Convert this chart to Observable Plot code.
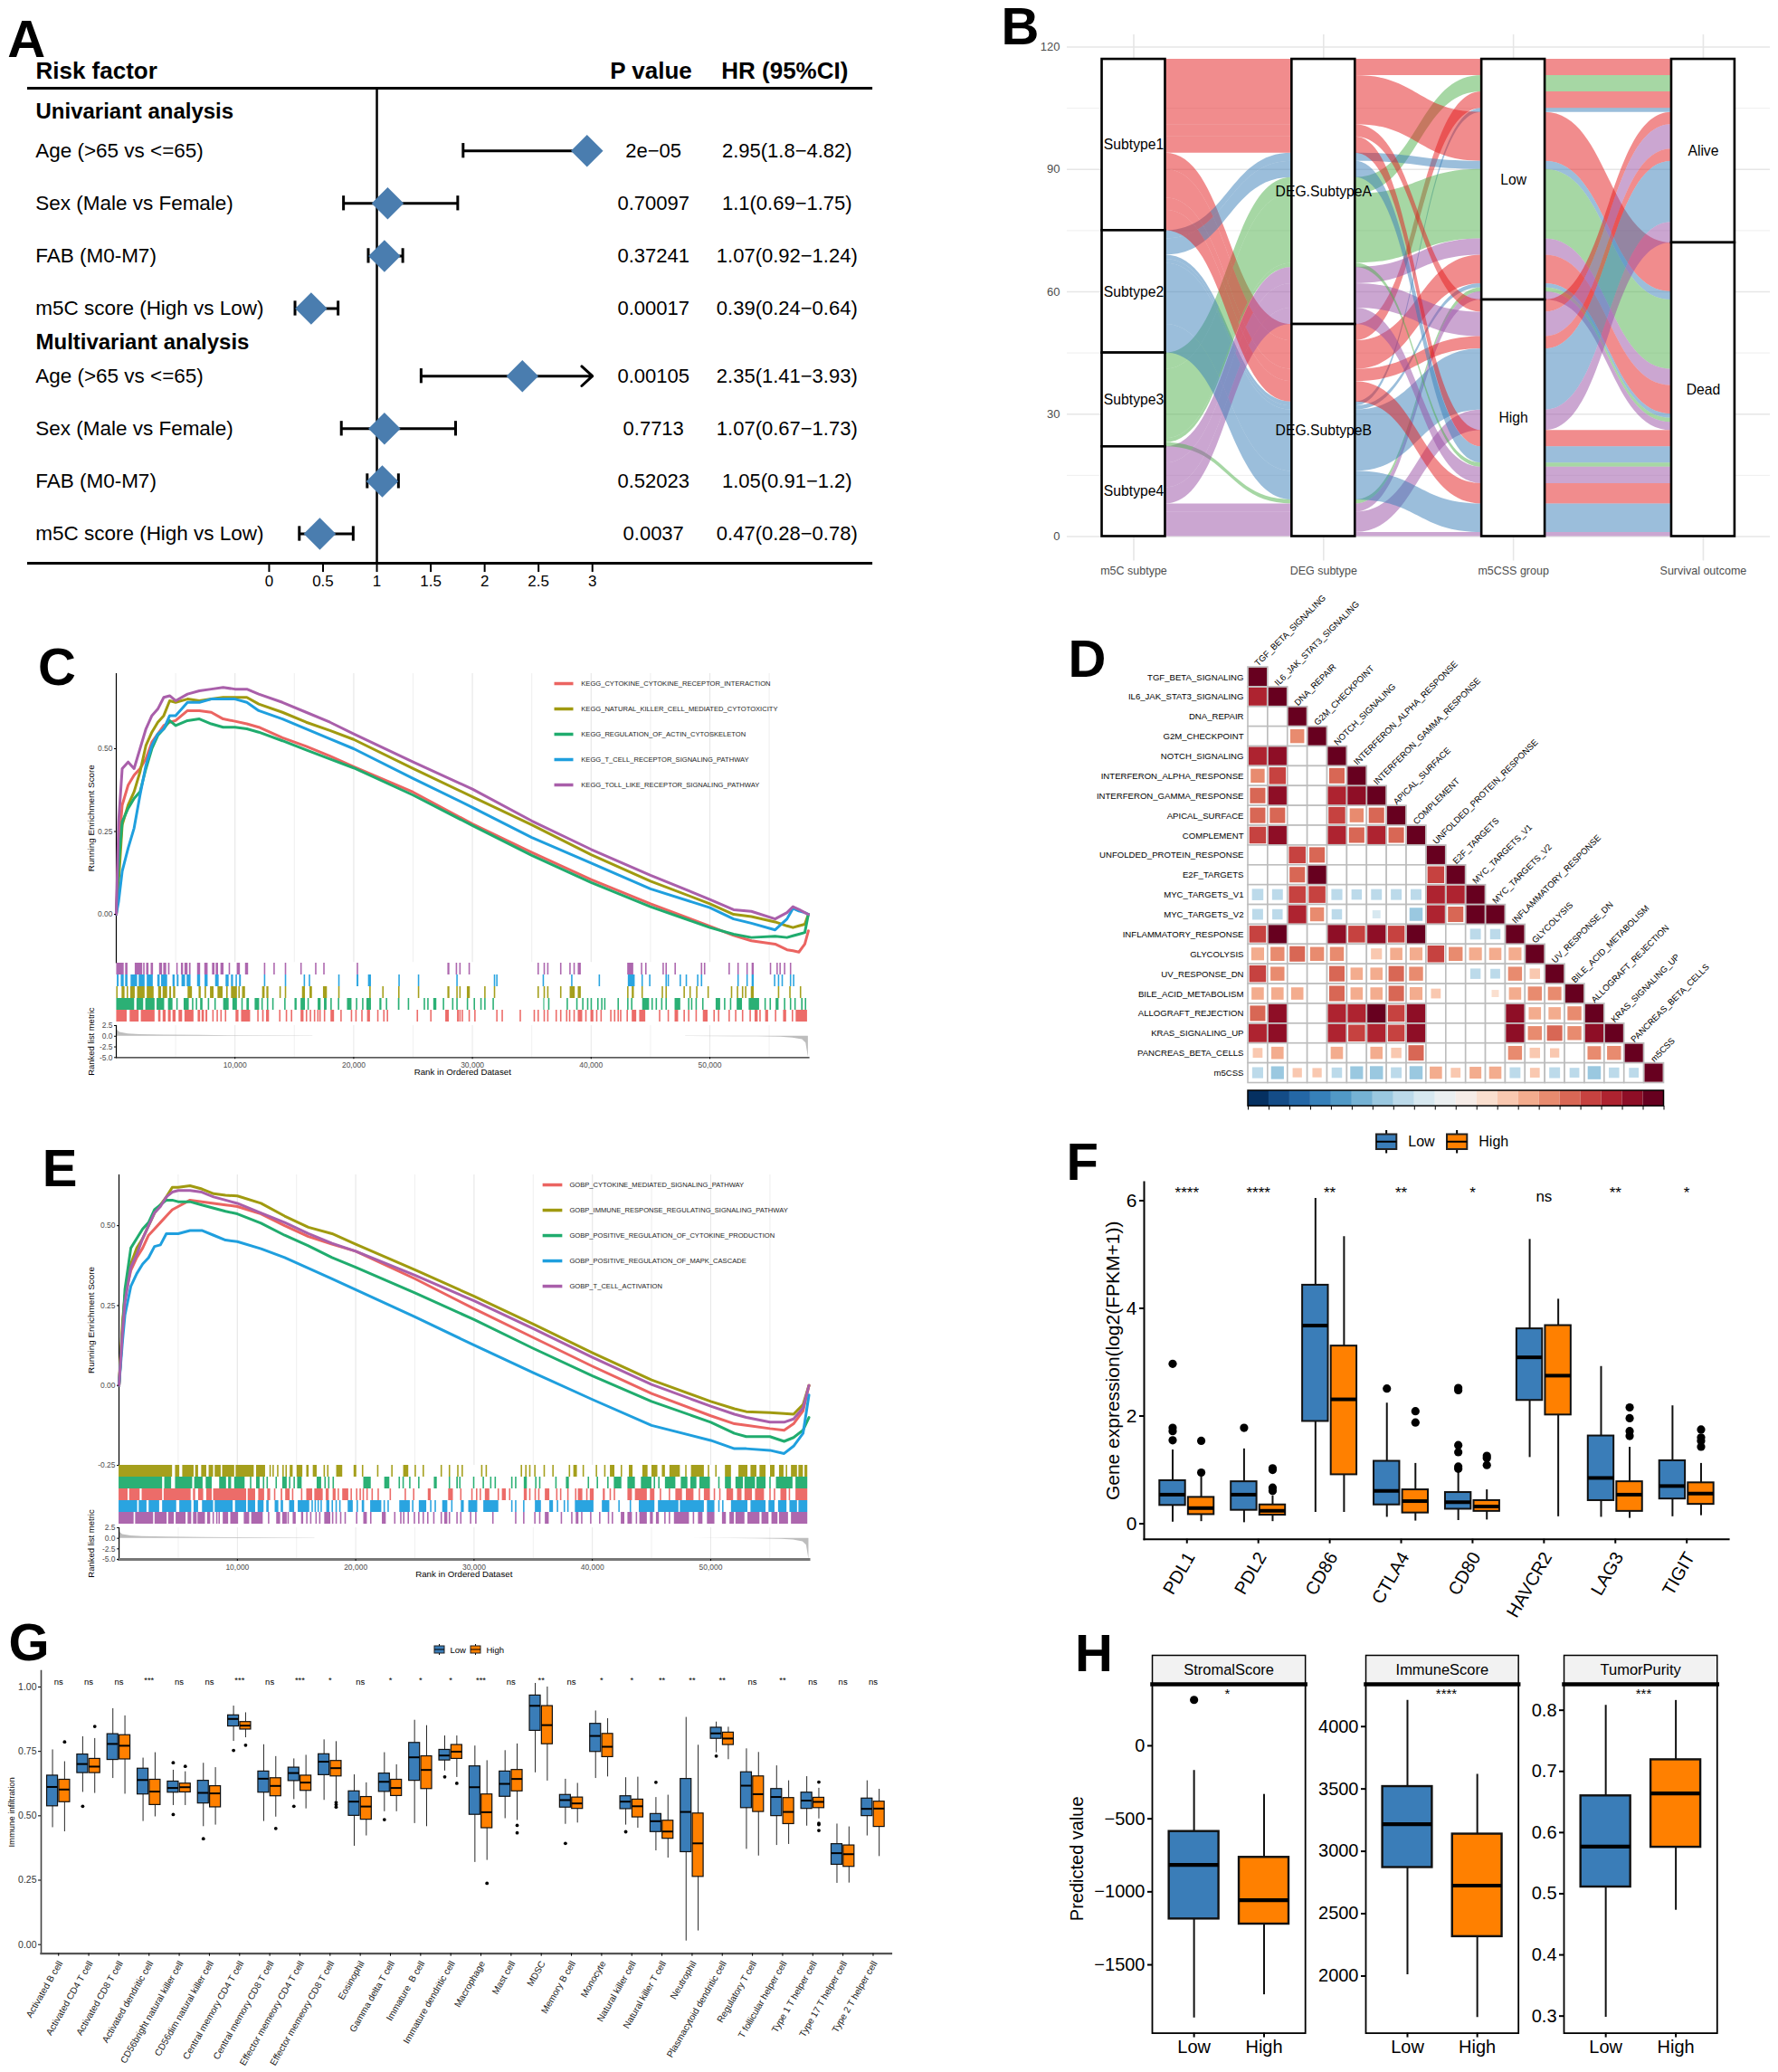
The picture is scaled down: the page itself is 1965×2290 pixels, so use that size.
<!DOCTYPE html>
<html><head><meta charset="utf-8">
<script src="https://cdn.jsdelivr.net/npm/d3@7"></script>
<script src="https://cdn.jsdelivr.net/npm/@observablehq/plot@0.6"></script>
<style>
html,body{margin:0;padding:0;background:#fff}
#fig{position:relative;width:1965px;height:2290px;overflow:hidden;background:#fff;font-family:"Liberation Sans",Arial,sans-serif}
.tag{position:absolute;font-weight:bold;font-size:58px;line-height:.75;color:#000}
</style></head><body><div id="fig"></div>
<script>
const FONT='"Liberation Sans",Arial,sans-serif', BLUE="#3A7DB8", ORANGE="#FF8000";
// ---------- A
const riskRows=[0,1,2,3,4.286,5.286,6.286,7.286];
const riskLabels=["Age (>65 vs <=65)","Sex (Male vs Female)","FAB (M0-M7)","m5C score (High vs Low)","Age (>65 vs <=65)","Sex (Male vs Female)","FAB (M0-M7)","m5C score (High vs Low)"];
const hrVal=[2.95,1.1,1.07,0.39,2.35,1.07,1.05,0.47];
const hrLo=[1.8,0.69,0.92,0.24,1.41,0.67,0.91,0.28];
const hrHi=[4.82,1.75,1.24,0.64,3.93,1.73,1.2,0.78];
const pVals=["2e\u221205","0.70097","0.37241","0.00017","0.00105","0.7713","0.52023","0.0037"];
const hrText=["2.95(1.8\u22124.82)","1.1(0.69\u22121.75)","1.07(0.92\u22121.24)","0.39(0.24\u22120.64)","2.35(1.41\u22123.93)","1.07(0.67\u22121.73)","1.05(0.91\u22121.2)","0.47(0.28\u22120.78)"];
// ---------- B
const stageNames=["m5C subtype","DEG subtype","m5CSS group","Survival outcome"];
const subtypes=["Subtype1","Subtype2","Subtype3","Subtype4"], degs=["DEG.SubtypeA","DEG.SubtypeB"], risks=["Low","High"], fates=["Alive","Dead"];
const set1=["#E41A1C","#377EB8","#4DAF4A","#984EA3"];
const alluvia=[["Subtype1","DEG.SubtypeA","Low","Alive",4],["Subtype3","DEG.SubtypeA","Low","Alive",4],["Subtype1","DEG.SubtypeB","Low","Alive",4],["Subtype2","DEG.SubtypeB","Low","Alive",1],
["Subtype1","DEG.SubtypeA","Low","Dead",12],["Subtype2","DEG.SubtypeA","Low","Dead",2],["Subtype3","DEG.SubtypeA","Low","Dead",17],["Subtype4","DEG.SubtypeA","Low","Dead",4],
["Subtype1","DEG.SubtypeB","Low","Dead",7],["Subtype2","DEG.SubtypeB","Low","Dead",1],["Subtype3","DEG.SubtypeB","Low","Dead",1],["Subtype4","DEG.SubtypeB","Low","Dead",2],
["Subtype1","DEG.SubtypeA","High","Alive",3],["Subtype4","DEG.SubtypeA","High","Alive",6],["Subtype1","DEG.SubtypeB","High","Alive",3],["Subtype2","DEG.SubtypeB","High","Alive",15],["Subtype4","DEG.SubtypeB","High","Alive",5],
["Subtype1","DEG.SubtypeA","High","Dead",4],["Subtype2","DEG.SubtypeA","High","Dead",4],["Subtype3","DEG.SubtypeA","High","Dead",1],["Subtype4","DEG.SubtypeA","High","Dead",4],
["Subtype1","DEG.SubtypeB","High","Dead",5],["Subtype2","DEG.SubtypeB","High","Dead",7],["Subtype4","DEG.SubtypeB","High","Dead",1]];
// ---------- C / E
const cRed="#EB6461",cOlive="#A09A10",cGreen="#20AC6E",cBlue="#1F9FDE",cPurple="#A95FAA";
const rankC=[0,.2,.5,1,1.5,2,2.5,3,3.5,4,4.5,5,6,7,8,9,10,11,12,14,16,18,20,25,30,35,40,45,50,52,53.5,55.5,56.5,57,57.5,58,58.3];
const esC_red=[0,.2,.33,.39,.42,.44,.47,.52,.545,.57,.58,.585,.615,.615,.61,.59,.583,.575,.565,.533,.507,.478,.446,.369,.273,.187,.105,.032,-.036,-.064,-.08,-.09,-.107,-.11,-.114,-.09,-.05];
const esC_olive=[0,.1,.27,.33,.37,.43,.51,.55,.58,.60,.645,.64,.65,.645,.65,.655,.655,.655,.635,.61,.58,.555,.528,.44,.355,.27,.18,.10,.032,0,-.007,-.023,-.035,-.04,-.035,-.03,0];
const esC_green=[0,.15,.28,.32,.35,.37,.44,.5,.54,.56,.585,.57,.585,.59,.575,.565,.565,.56,.55,.524,.496,.469,.442,.36,.268,.178,.096,.023,-.04,-.06,-.07,-.066,-.07,-.065,-.06,-.055,0];
const esC_blue=[0,.04,.13,.2,.26,.36,.45,.51,.545,.56,.60,.60,.64,.64,.65,.65,.65,.64,.615,.59,.56,.53,.50,.41,.323,.232,.155,.077,.02,-.014,-.027,-.047,-.014,.018,.01,.005,0];
const esC_purple=[0,.28,.44,.46,.44,.50,.56,.60,.62,.655,.66,.645,.665,.675,.68,.685,.68,.68,.665,.64,.61,.58,.545,.46,.378,.282,.196,.118,.045,.014,.009,-.014,.005,.023,.015,.005,0];
const namesC=["KEGG_CYTOKINE_CYTOKINE_RECEPTOR_INTERACTION","KEGG_NATURAL_KILLER_CELL_MEDIATED_CYTOTOXICITY","KEGG_REGULATION_OF_ACTIN_CYTOSKELETON","KEGG_T_CELL_RECEPTOR_SIGNALING_PATHWAY","KEGG_TOLL_LIKE_RECEPTOR_SIGNALING_PATHWAY"];
const rugC_purple=[[.03,.66],[.78,.98],[1.59,2.22],[2.3,2.42],[2.55,2.75],[2.93,3.13],[3.64,3.89],[3.99,4.24],[4.39,4.52],5.15,[5.48,5.66],[5.78,6.04],[6.16,6.29],[6.84,7.1],[7.45,7.73],[8.1,8.31],[8.41,8.61],[8.81,9.07],[9.5,9.62],[10.18,10.45],[10.88,11.14],12.53,13.33,14.29,15.6,16.84,17.53,20.35,[27.93,28.1],28.69,28.99,29.77,35.58,36.09,36.39,37.48,38.26,38.61,[38.91,39.17],[43.08,43.59],44.29,44.65,46.11,46.36,47.12,49.34,49.6,51.67,52.42,53.18,[53.56,53.74],55.15,55.71,55.96,56.34,56.84];
const rugC_blue=[[.08,.23],[.41,.66],[.78,.98],[1.24,1.79],[1.92,2.42],[2.6,3.11],[3.49,3.69],[3.81,4.32],[4.77,4.95],[5.13,5.28],[5.53,5.83],[5.96,6.29],[6.84,7.1],[7.47,7.73],[8.36,8.66],[9.24,9.5],[9.7,9.87],[10.08,10.2],[10.38,10.53],12.53,14.29,15.88,16.31,18.79,[20.28,20.43],[21.24,21.49],23.86,25.5,28.74,31.9,32.1,36.01,38.41,40.73,[43.13,43.71],44.34,44.98,46.36,46.54,47.55,48.06,49.02,49.34,52.42,53.18,[53.56,53.74],55.5,55.83,56.14,56.84,57.1];
const rugC_olive=[[.03,.15],[.48,.73],[.91,1.03],[1.21,1.59],[1.79,2.42],[2.6,3.18],[3.56,3.81],[3.94,4.32],[4.5,4.65],[4.82,5],[6.04,6.41],[6.97,7.15],[7.47,7.6],[7.93,8.23],[8.56,8.99],[9.29,9.42],[9.7,10.2],10.38,[10.63,10.88],[12.32,12.53],[12.68,12.85],13.84,14.29,[15.68,15.93],[16.31,16.52],[17.45,17.78],18.79,21.41,22.5,23.84,25.5,[27.93,28.1],28.74,28.99,[29.57,29.82],31.09,31.9,35.58,36.09,36.39,37.48,[38.23,38.66],[38.91,39.17],43.13,[43.46,43.64],44.34,46.04,46.36,47.88,48.38,48.94,49.9,51.87,52.37,52.8,53.06,[53.49,53.74],55.83,56.79,57.68];
const rugC_green=[[.03,1.54],[1.74,2.3],[2.48,3.26],[3.43,4.07],[4.39,4.77],5.15,[5.71,6.14],6.47,6.79,[7.1,7.3],7.8,8.36,[9.04,9.5],[9.82,10.2],10.63,[11,11.21],[11.69,12.07],12.32,12.78,13.23,14.24,[15.05,15.23],[15.56,15.93],16.2,[17,17.25],[17.53,17.75],18.13,18.76,[19.47,19.85],20.28,20.8,[21.11,21.49],[22.2,22.37],22.8,[23.76,23.89],24.65,25.99,26.29,[26.74,27],27.6,28.38,28.74,29.62,30.2,30.76,31.09,31.79,[36.01,36.09],36.47,38.03,38.84,39.34,39.75,40.05,40.61,40.94,41.19,42.32,43.13,43.46,[44.34,44.92],45.18,45.53,45.99,46.36,[47.07,47.55],48.26,48.51,48.89,49.45,[50.53,50.91],51.29,51.79,[52.3,52.75],[53.31,54.19],54.7,55.13,[55.58,55.83],56.34,56.84,57.22,[57.73,57.86],58.1];
const rugC_red=[[.03,.91],[1.16,1.92],[2.1,3.26],[3.56,3.76],[3.94,4.19],[4.39,4.62],[4.77,5.03],[5.28,5.58],[5.78,6.54],[6.89,7.1],[7.22,7.42],[7.55,7.7],8.18,8.54,8.86,9.24,[10.08,10.33],[10.55,11.31],11.97,[12.32,12.45],[12.65,12.9],13.81,14.37,14.8,[15.56,15.81],16.06,16.39,16.74,17.02,17.2,17.58,[18.08,18.38],18.97,19.85,20.23,20.73,[21.16,21.41],22.07,22.58,22.88,25.4,26.54,[27.75,28.05],[28.74,28.89],28.99,29.19,29.77,30.25,32.1,32.55,34.07,35.25,35.58,36.09,36.39,37.1,37.48,37.98,38.23,38.61,[38.91,39.29],39.6,[39.98,40.23],40.51,40.88,41.7,42.02,42.32,42.53,43.08,[43.46,43.84],[44.09,44.6],45.81,46.54,[47.07,47.37],47.88,48.26,48.89,[49.45,49.85],50.4,50.78,51.67,52.22,52.8,53.44,[53.81,54.07],54.27,[54.7,54.95],55.58,[56.21,56.47],57,[57.27,58.23]];
const rankE=[0,.3,.5,1,1.5,2,2.5,3,3.5,4,4.5,5,6,7,8,9,10,12,14,16,18,20,25,30,35,40,45,50,52,53,55,56.2,57,57.8,58.3];
const esE_red=[0,.18,.28,.36,.4,.43,.47,.49,.51,.53,.55,.56,.58,.575,.57,.565,.56,.537,.5,.466,.442,.42,.334,.24,.15,.06,-.025,-.095,-.12,-.125,-.135,-.14,-.12,-.08,0];
const esE_olive=[0,.2,.28,.38,.43,.46,.5,.54,.565,.59,.62,.62,.625,.615,.60,.595,.593,.57,.53,.495,.475,.442,.362,.279,.192,.102,.017,-.05,-.073,-.082,-.085,-.088,-.09,-.06,0];
const esE_green=[0,.17,.3,.43,.46,.49,.51,.55,.565,.58,.58,.575,.575,.565,.555,.545,.537,.508,.47,.437,.40,.37,.29,.206,.116,.03,-.05,-.115,-.15,-.16,-.16,-.175,-.163,-.14,-.1];
const esE_blue=[0,.14,.22,.31,.35,.38,.40,.435,.44,.475,.475,.475,.485,.485,.47,.455,.45,.428,.40,.367,.334,.30,.215,.126,.04,-.044,-.125,-.172,-.198,-.198,-.203,-.213,-.19,-.15,-.03];
const esE_purple=[0,.17,.26,.37,.41,.46,.5,.54,.56,.59,.605,.61,.61,.605,.59,.58,.57,.54,.51,.475,.445,.42,.345,.265,.178,.088,.003,-.065,-.09,-.10,-.115,-.115,-.105,-.07,0];
const namesE=["GOBP_CYTOKINE_MEDIATED_SIGNALING_PATHWAY","GOBP_IMMUNE_RESPONSE_REGULATING_SIGNALING_PATHWAY","GOBP_POSITIVE_REGULATION_OF_CYTOKINE_PRODUCTION","GOBP_POSITIVE_REGULATION_OF_MAPK_CASCADE","GOBP_T_CELL_ACTIVATION"];
const rugE_olive=[[0,4.52],[4.77,5.13],[5.38,6.34],[6.47,6.72],[6.98,7.41],[7.61,7.99],[8.12,8.63],[8.75,9.77],[9.89,11.42],[11.62,12.38],12.81,13.06,13.45,13.9,14.16,[14.46,14.71],[15.04,15.53],[15.86,16.06],[16.41,16.74],17.38,17.68,[18.39,18.9],[19.86,20.09],20.62,21.9,23.1,[24.05,24.48],25.07,25.75,27.27,27.96,28.67,29.04,30.69,31.07,34.04,34.42,34.75,35.18,35.97,36.71,38.1,[38.43,38.73],39.27,40.38,41.09,[41.52,41.9],42.49,[43.12,43.43],[44.26,44.7],[45.03,45.53],[45.91,46.17],[46.55,47.43],47.94,[48.37,49.46],49.85,50.48,[51.24,51.75],[52.38,53.14],[53.4,53.9],[54.16,54.67],[55.05,55.43],[55.81,56.19],56.44,[56.82,57.33],[57.45,57.83],[57.96,58.2]];
const rugE_green=[[0,3.68],[3.86,4.44],[4.77,6.22],[6.39,7.1],[7.36,7.87],[8.5,9.08],[9.26,9.51],[9.77,10.65],11.16,[11.62,11.92],12.25,12.56,13.32,[13.83,14.21],14.46,14.84,[15.09,15.47],[16.74,17.12],17.45,17.76,18.14,[20.68,21.31],[22.45,22.88],23.72,24.05,24.61,25.37,[26.64,26.89],27.96,[28.54,28.67],28.84,30.01,30.82,31.45,31.83,33.23,33.56,[34.24,34.5],35.26,35.59,36.96,[37.8,38.05],39.7,40.46,41.35,[41.85,42.49],[43,43.63],[44.14,45.03],45.28,45.66,[46.17,47.05],[47.51,48.07],[48.32,48.83],[49.08,49.97],50.73,[51.24,51.75],[52.13,52.76],[52.89,53.78],[53.9,54.67],55.05,[55.55,56.95],[57.2,58.2]];
const rugE_red=[[0,.76],[.89,1.78],[1.95,3.68],[3.81,6.09],[6.29,6.47],[6.72,7.15],[7.41,7.87],[7.99,10.78],[10.91,11.54],[11.8,12.3],[12.56,12.81],13.19,[13.7,13.83],[14.08,14.46],14.71,15.47,[15.86,16.36],[16.54,17.25],[17.5,17.76],[18.09,18.34],18.57,[18.9,19.41],19.66,20.12,20.42,20.68,21,21.43,21.94,22.96,24.23,24.94,[26.13,26.38],[27.85,28.25],28.92,29.86,30.26,30.57,[30.95,31.33],32.09,[32.39,32.72],33.05,[34.24,34.5],34.75,35.21,35.51,[36.02,36.4],37.03,37.36,37.97,38.63,[38.81,39.19],39.57,[39.82,40.15],[40.92,41.09],41.55,41.9,[43,43.38],[43.63,44.64],[44.9,45.28],45.79,46.55,[47.05,47.61],[47.94,48.58],49.08,[49.46,49.97],50.35,50.81,[51.37,51.93],[52.26,52.64],[52.89,53.52],[53.78,54.54],55.05,55.43,[55.93,56.44],56.69,[57.2,58.2]];
const rugE_blue=[[0,1.57],[1.7,2.36],[2.54,3.43],[3.68,4.87],[5.13,6.14],[6.34,6.72],[7.05,7.99],[8.12,9.64],[9.84,10.78],[10.91,11.54],[11.75,12.25],[12.48,12.68],[13.19,13.5],[13.7,13.9],[14.41,14.84],[15.14,16.11],16.36,16.62,16.87,17.12,[17.55,17.81],18.06,18.39,18.7,[19.36,19.79],20.17,[20.55,20.75],[21.26,22.2],22.45,22.78,[23.72,24.61],24.86,[25.37,26],26.38,26.76,[27.35,27.78],28.16,[28.92,29.17],[29.55,30.31],[30.82,32.09],33.23,33.56,34.24,[35.18,35.69],[36.4,36.71],37.09,37.67,37.97,[38.56,40.13],[40.84,41.47],42.29,43.25,[43.96,45.28],[45.58,47.31],[47.43,49.46],[49.72,50.35],50.73,51.06,[51.75,53.14],[53.4,54.67],[54.92,55.43],[55.73,56.44],[56.69,57.33],[57.45,58.2]];
const rugE_purple=[[0,1.27],[1.4,2.92],[3.04,4.06],[4.19,4.67],[4.82,5.66],[5.83,6.14],[6.29,6.6],[6.67,7.3],[7.48,7.74],8,8.3,8.5,[8.8,9.26],[9.44,10.1],[10.58,11.04],[11.21,12.18],12.68,[13.32,13.65],[13.83,14.21],14.33,[14.71,14.97],[15.42,15.6],15.91,16.24,16.69,17,[17.38,17.89],18.09,18.39,18.77,19.15,20.12,[20.68,20.98],21.31,[22.25,22.58],23.34,23.85,24.1,24.48,25,25.37,25.75,26.13,26.64,27.27,[27.52,27.78],27.96,28.6,28.92,29.75,30.19,31.63,33.56,34.24,35.18,35.59,[36.02,36.35],37.42,38.3,[38.63,38.86],39.14,39.9,40.66,41.4,41.73,[42.44,42.74],[43,43.38],43.76,[44.01,44.64],[44.9,45.15],[45.41,45.66],46.17,46.55,[46.93,48.2],48.58,[48.96,49.34],[49.72,50.35],[50.99,51.32],[51.62,52],[52.13,52.89],[53.14,54.16],[54.33,54.92],[55.17,55.68],[55.81,56.57],[56.82,58.2]];
const metricRank=[0,.1,.3,1,2,4,7,10,16.5,16.6,47.9,48,52,54,56,57,57.8,58.1,58.3];
const metricVal=[2.3,1.4,.9,.55,.4,.28,.2,.12,.04,0,0,-.04,-.08,-.12,-.22,-.4,-.8,-1.6,-5];
// ---------- D
const pathways=["TGF_BETA_SIGNALING","IL6_JAK_STAT3_SIGNALING","DNA_REPAIR","G2M_CHECKPOINT","NOTCH_SIGNALING","INTERFERON_ALPHA_RESPONSE","INTERFERON_GAMMA_RESPONSE","APICAL_SURFACE","COMPLEMENT","UNFOLDED_PROTEIN_RESPONSE","E2F_TARGETS","MYC_TARGETS_V1","MYC_TARGETS_V2","INFLAMMATORY_RESPONSE","GLYCOLYSIS","UV_RESPONSE_DN","BILE_ACID_METABOLISM","ALLOGRAFT_REJECTION","KRAS_SIGNALING_UP","PANCREAS_BETA_CELLS","m5CSS"];
const corr=[[1],[.75,1],[0,0,1],[0,0,.45,1],[.75,.85,0,0,1],[.45,.65,0,0,.55,1],[.55,.85,0,0,.75,.85,1],[.55,.55,0,0,.65,.45,.55,1],[.65,.85,0,0,.75,.55,.75,.55,1],
[0,0,.65,.55,0,0,0,0,0,1],[0,0,.55,.95,0,0,0,0,0,.65,1],[-.3,-.27,.65,.65,-.28,-.25,-.27,-.27,-.27,.75,.75,1],[-.27,-.25,.75,.45,-.25,0,-.15,0,-.4,.75,.55,.9,1],
[.65,.95,0,0,.85,.65,.85,.65,.95,0,0,-.27,-.25,1],[.38,.45,.55,.45,.45,0,.28,.35,.38,.65,.45,.38,.35,.38,1],[.65,.45,0,0,.55,.35,.35,.55,.45,0,0,-.25,-.22,.45,.25,1],
[.35,.35,.35,0,.55,.35,.35,.55,.38,.22,0,0,.12,.35,.45,.42,1],[.55,.85,0,0,.75,.75,.95,.65,.85,0,0,0,0,.85,.35,.35,.45,1],[.75,.85,0,0,.75,.65,.75,.65,.85,0,0,0,0,.85,.45,.55,.45,.85,1],
[.22,.35,0,0,.35,0,.35,.25,.55,0,0,0,0,.45,.25,.2,0,.42,.45,1],[-.28,-.38,.2,.2,-.25,-.38,-.4,-.27,-.4,.35,.22,.32,.35,-.27,.22,-.27,-.22,-.4,-.25,-.22,1]];
// ---------- F  [lo,q1,med,q3,hi,outliers]
const genes=["PDL1","PDL2","CD86","CTLA4","CD80","HAVCR2","LAG3","TIGIT"];
const geneSig=["****","****","**","**","*","ns","**","*"];
const geneLow=[[.03,.34,.54,.8,1.37,[2.97,1.78,1.72,1.55]],[.02,.25,.54,.78,1.39,[1.78]],[.21,1.9,3.68,4.43,6.04],[.12,.35,.61,1.16,2.24,[2.51]],[.06,.27,.4,.58,1.0,[2.52,2.48,1.46,1.33,1.06,1.02]],[1.23,2.29,3.09,3.62,5.28],[.12,.43,.85,1.63,2.92],[.13,.46,.7,1.17,2.19]];
const geneHigh=[[.04,.17,.29,.49,.88,[.95,1.54]],[.04,.16,.24,.35,.52,[1.03,1.0,.67,.61]],[.21,.91,2.31,3.3,5.33],[.05,.2,.42,.63,1.12,[2.09,1.88]],[.07,.23,.32,.43,.63,[1.26,1.22,1.09]],[.13,2.02,2.75,3.68,4.17],[.1,.23,.54,.78,1.42,[2.16,1.96,1.72,1.63]],[.15,.36,.56,.76,1.12,[1.75,1.6,1.54,1.43]]];
// ---------- G
const cells=["Activated B cell","Activated CD4 T cell","Activated CD8 T cell","Activated dendritic cell","CD56bright natural killer cell","CD56dim natural killer cell","Central memory CD4 T cell","Central memory CD8 T cell","Effector memeory CD4 T cell","Effector memeory CD8 T cell","Eosinophil","Gamma delta T cell","Immature  B cell","Immature dendritic cell","Macrophage","Mast cell","MDSC","Memory B cell","Monocyte","Natural killer cell","Natural killer T cell","Neutrophil","Plasmacytoid dendritic cell","Regulatory T cell","T follicular helper cell","Type 1 T helper cell","Type 17 T helper cell","Type 2 T helper cell"];
const cellSig=["ns","ns","ns","***","ns","ns","***","ns","***","*","ns","*","*","*","***","ns","**","ns","*","*","**","**","**","ns","**","ns","ns","ns"];
const cellLow=[[.454,.537,.612,.656,.756],[.591,.666,.701,.738,.807,[.537]],[.645,.717,.779,.817,.916],[.478,.583,.639,.683,.724],[.54,.59,.608,.633,.677,[.706,.505]],[.458,.548,.589,.636,.704,[.411]],[.789,.847,.876,.89,.926,[.754]],[.478,.59,.644,.672,.776],[.563,.635,.666,.687,.721,[.537]],[.56,.658,.71,.739,.795],[.382,.5,.555,.595,.659],[.516,.593,.632,.664,.745,[.485]],[.47,.636,.727,.783,.871],[.674,.715,.734,.756,.81,[.651]],[.319,.504,.611,.692,.771],[.489,.574,.624,.672,.753],[.667,.83,.927,.967,1.014],[.467,.532,.561,.581,.642,[.393]],[.645,.748,.81,.857,.907],[.464,.526,.555,.576,.648,[.438]],[.364,.437,.479,.507,.571,[.63]],[.014,.359,.515,.643,.882],[.745,.799,.82,.842,.864,[.732]],[.37,.53,.617,.669,.76],[.385,.499,.573,.604,.694],[.46,.527,.559,.59,.652],[.238,.31,.355,.39,.468],[.422,.499,.527,.567,.636]];
const cellHigh=[[.438,.553,.602,.64,.71,[.787]],[.587,.666,.691,.721,.80,[.847]],[.584,.719,.772,.813,.888],[.496,.542,.594,.64,.745],[.54,.591,.611,.625,.671,[.692]],[.464,.533,.587,.615,.687],[.803,.835,.85,.864,.90,[.774]],[.495,.576,.616,.646,.73,[.451]],[.527,.597,.629,.656,.735],[.557,.653,.685,.713,.788,[.552,.543,.534]],[.422,.485,.536,.573,.628],[.516,.577,.608,.64,.698],[.458,.604,.678,.731,.85],[.649,.721,.749,.775,.81,[.626]],[.327,.452,.514,.583,.714,[.238]],[.482,.595,.643,.678,.779,[.463,.434]],[.635,.778,.852,.926,1.0],[.472,.527,.548,.571,.626],[.651,.728,.768,.818,.877],[.452,.494,.537,.563,.65],[.336,.411,.439,.481,.58],[.053,.263,.393,.509,.774],[.718,.775,.8,.823,.844],[.344,.515,.584,.653,.746],[.389,.468,.515,.569,.636],[.488,.53,.554,.57,.607,[.631,.471,.466,.443]],[.239,.302,.351,.385,.457],[.342,.457,.528,.555,.603]];
// ---------- H
const hGroups=["Low","High"];
const stromal=[[-1864,-1186,-816,-587,-169,[314]],[-1705,-1221,-1058,-764,-333]];
const immune=[[2010,2870,3217,3519,4210],[1667,2316,2725,3138,3618]];
const purity=[[.298,.511,.577,.66,.808],[.473,.576,.664,.719,.816]];

// ========== helpers
const root=document.getElementById("fig");
function place(svg,x,y){svg.style.position="absolute";svg.style.left=x+"px";svg.style.top=y+"px";svg.style.overflow="visible";svg.style.maxWidth="none";root.appendChild(svg);}
function panel(f,opts){const {left,top,right,bottom,ml=0,mr=0,mt=0,mb=0}=f;
  place(Plot.plot({width:right-left+ml+mr,height:bottom-top+mt+mb,marginLeft:ml,marginRight:mr,marginTop:mt,marginBottom:mb,
    style:{fontFamily:FONT,background:"transparent",color:"black",overflow:"visible"},...opts}),left-ml,top-mt);}
function tag(t,x,base){const d=document.createElement("div");d.className="tag";d.textContent=t;d.style.left=x+"px";d.style.top=(base-41.8)+"px";root.appendChild(d);}
const axX=(t,o)=>Plot.axisX(t,{label:null,...o}), axY=(t,o)=>Plot.axisY(t,{label:null,...o});
const plain=f=>d=>d3.format(f)(d).replace("\u2212","-");
const vTitle=(t,dx,fontSize)=>Plot.text([t],{frameAnchor:"left",dx,rotate:-90,textAnchor:"middle",fontSize});
const boxRows=(stats,group,off,hw)=>stats.map((s,i)=>({x:i+off,hw,group,lo:s[0],q1:s[1],med:s[2],q3:s[3],hi:s[4],out:s[5]||[]}));
function boxMarks(rows,{sw,medW,whW=sw,r}){const outs=rows.flatMap(d=>d.out.map(v=>({x:d.x,v})));
  return [Plot.ruleX(rows,{x:"x",y1:"lo",y2:"hi",strokeWidth:whW,stroke:"#111"}),
    Plot.rect(rows,{x1:d=>d.x-d.hw,x2:d=>d.x+d.hw,y1:"q1",y2:"q3",fill:"group",stroke:"#111",strokeWidth:sw}),
    Plot.ruleY(rows,{y:"med",x1:d=>d.x-d.hw,x2:d=>d.x+d.hw,strokeWidth:medW,stroke:"black"}),
    Plot.dot(outs,{x:"x",y:"v",r,fill:"black",stroke:"none"})];}
const boxColor={domain:["Low","High"],range:[BLUE,ORANGE]};
function boxLegend(left,top,step,keyW,h,keyInset,fs,offset,sw){
  const g=["Low","High"];
  panel({left,top,right:left+2*step,bottom:top+h},{x:{type:"band",domain:g,padding:0,axis:null},color:boxColor,marks:[
    Plot.barY(g,{x:d=>d,y1:()=>0,y2:()=>1,fill:"black",insetLeft:keyW/2-sw/2,insetRight:step-keyW/2-sw/2}),
    Plot.barY(g,{x:d=>d,y1:()=>0,y2:()=>1,fill:d=>d,stroke:"#222",strokeWidth:sw,insetTop:keyInset,insetBottom:keyInset,insetRight:step-keyW}),
    Plot.barY(g,{x:d=>d,y1:()=>0,y2:()=>1,fill:"black",insetTop:h/2-sw/2,insetBottom:h/2-sw/2,insetRight:step-keyW}),
    Plot.text(g,{x:d=>d,frameAnchor:"middle",dx:-step/2+offset,textAnchor:"start",fontSize:fs})
  ],y:{axis:null,domain:[0,1]}});
}

// ========== A
{const rows=riskRows.map((r,i)=>({row:r,label:riskLabels[i],hr:hrVal[i],lo:hrLo[i],hi:hrHi[i],p:pVals[i],t:hrText[i]}));
 const head=(t,y,o)=>Plot.text([t],{y:()=>y,fontSize:26,fontWeight:"bold",...o});
 panel({left:30.5,right:961.6,top:96.6,bottom:621.7,mt:96,mb:35},{
  x:{domain:[-2.233,5.585],axis:null},y:{domain:[7.847,-1.191],axis:null},marks:[
  Plot.frame({anchor:"top",strokeWidth:3}),Plot.frame({anchor:"bottom",strokeWidth:3}),
  Plot.ruleX([1],{strokeWidth:2.5}),
  axX([0,.5,1,1.5,2,2.5,3],{tickFormat:d=>d,tickSize:10,tickPadding:3,fontSize:17,strokeWidth:2}),
  Plot.ruleY(rows.filter(d=>!(d.hi>3&&d.hr<2.9)),{y:"row",x1:"lo",x2:d=>Math.min(d.hi,3),strokeWidth:3}),
  Plot.arrow(rows.filter(d=>d.hi>3&&d.hr<2.9),{x1:"lo",y1:"row",x2:()=>3,y2:"row",bend:0,strokeWidth:3,headLength:8,headAngle:85,stroke:"black"}),
  Plot.ruleX(rows,{x:"lo",y1:d=>d.row-.14,y2:d=>d.row+.14,strokeWidth:3}),
  Plot.ruleX(rows.filter(d=>d.hi<=3),{x:"hi",y1:d=>d.row-.14,y2:d=>d.row+.14,strokeWidth:3}),
  Plot.dot(rows,{x:"hr",y:"row",symbol:"diamond2",r:16,fill:"#4A7DAF",stroke:"none"}),
  Plot.text(rows,{y:"row",text:"label",frameAnchor:"left",dx:7.7,textAnchor:"start",fontSize:22.5}),
  Plot.text(rows,{y:"row",text:"p",frameAnchor:"left",dx:690.7,textAnchor:"middle",fontSize:22}),
  Plot.text(rows,{y:"row",text:"t",frameAnchor:"left",dx:838.3,textAnchor:"middle",fontSize:22}),
  head("Risk factor",-1.517,{frameAnchor:"left",dx:8,textAnchor:"start"}),
  head("P value",-1.517,{frameAnchor:"left",dx:688,textAnchor:"middle"}),
  head("HR (95%CI)",-1.517,{frameAnchor:"left",dx:835.8,textAnchor:"middle"}),
  head("Univariant analysis",-.744,{frameAnchor:"left",dx:8,textAnchor:"start",fontSize:24}),
  head("Multivariant analysis",3.649,{frameAnchor:"left",dx:8,textAnchor:"start",fontSize:24})
 ]});}

// ========== B
{const total=d3.sum(alluvia,d=>d[4]);
 const orders=[[subtypes,0],[degs,1],[risks,2],[fates,3]];
 const cols=[
  d3.range(alluvia.length).sort((a,b)=>d3.ascending(subtypes.indexOf(alluvia[a][0]),subtypes.indexOf(alluvia[b][0]))||d3.ascending(alluvia[a][1],alluvia[b][1])||a-b),
  d3.range(alluvia.length).sort((a,b)=>d3.ascending(alluvia[a][1],alluvia[b][1])||d3.ascending(alluvia[a][0],alluvia[b][0])||a-b),
  d3.range(alluvia.length),
  d3.range(alluvia.length).sort((a,b)=>d3.ascending(alluvia[a][3],alluvia[b][3])||a-b)];
 const tops=cols.map(order=>{let y=total;const t=[];for(const i of order){t[i]=y;y-=alluvia[i][4];}return t;});
 const ribbons=[];
 alluvia.forEach((a,i)=>{for(let s=0;s<3;s++){
   ribbons.push({id:i+"-"+s,x:s+1+1/6,top:tops[s][i],bot:tops[s][i]-a[4],g:a[0]},{id:i+"-"+s,x:s+2-1/6,top:tops[s+1][i],bot:tops[s+1][i]-a[4],g:a[0]});}});
 const strata=orders.flatMap(([names,k])=>{let y=total;return names.map(n=>{const c=d3.sum(alluvia.filter(a=>a[k]===n),a=>a[4]);const r={s:k+1,name:n,top:y,bot:y-c};y-=c;return r;});});
 panel({left:1178.5,right:1955.5,top:37.8,bottom:619.2,mb:30,ml:20},{
  x:{domain:[.6497,4.353],axis:null},y:{domain:[-5.97,123],axis:null},
  color:{domain:subtypes,range:set1},marks:[
  Plot.ruleY([15,45,75,105],{stroke:"#efefef",strokeWidth:1}),
  Plot.ruleY([0,30,60,90,120],{stroke:"#e6e6e6",strokeWidth:1.6}),
  Plot.ruleX([1,2,3,4],{stroke:"#e6e6e6",strokeWidth:1.6}),
  Plot.area(ribbons,{x1:"x",y1:"bot",y2:"top",z:"id",fill:"g",fillOpacity:.5,curve:"bump-x"}),
  Plot.rect(strata,{x1:d=>d.s-1/6,x2:d=>d.s+1/6,y1:"bot",y2:"top",fill:"white",stroke:"black",strokeWidth:2.6}),
  Plot.text(strata,{x:"s",y:d=>(d.top+d.bot)/2,text:"name",fontSize:15.7}),
  axY([0,30,60,90,120],{tickFormat:d=>d,tickSize:0,tickPadding:8,fontSize:13,fill:"#4d4d4d"}),
  axX([1,2,3,4],{tickFormat:i=>stageNames[i-1],tickSize:0,tickPadding:6,fontSize:12.5,fill:"#4d4d4d"})
 ]});}

// ========== C & E
function gsea(cfg){
 const {left,right,esTop,esBottom,yDom,esTicks,rank,series,names,legend,rugTop,rugBottom,rugOrder,mTop,mBottom,axisW,axisC,titleDx,labelDy}=cfg;
 const x={domain:[0,(right-left)/cfg.kpx],axis:null};
 const line=series.flatMap((s,j)=>rank.map((r,i)=>({r,v:s.es[i],c:s.color,j})));
 const vg=[{t:[5,15,25,35,45,55],c:"#f1f1f1"},{t:[10,20,30,40,50],c:"#e8e8e8"}];
 const leg=series.map((s,i)=>({name:names[i],c:s.color,y:legend.y0-i*legend.dy}));
 panel({left,right,top:esTop,bottom:esBottom,ml:90,mr:20},{x,y:{domain:yDom,axis:null},color:{type:"identity"},marks:[
  ...vg.map(g=>Plot.ruleX(g.t,{stroke:g.c,strokeWidth:1.2})),
  Plot.frame({anchor:"left",strokeWidth:1.2}),
  Plot.line(line,{x:"r",y:"v",z:"j",stroke:"c",strokeWidth:3}),
  axY(esTicks,{tickFormat:plain(".2f"),tickSize:2,tickPadding:2,fontSize:8.5,fill:"#4d4d4d"}),
  vTitle("Running Enrichment Score",titleDx,9.9),
  Plot.ruleY(leg,{y:"y",x1:()=>legend.x1,x2:()=>legend.x2,stroke:"c",strokeWidth:3.5}),
  Plot.text(leg,{x:()=>legend.tx,y:"y",text:"name",textAnchor:"start",fontSize:7.6,fill:"#222"})
 ]});
 const rug=series.flatMap(s=>s.rug.map(d=>Array.isArray(d)?{name:s.key,a:d[0],b:d[1],c:s.color}:{name:s.key,a:d-.06,b:d+.06,c:s.color}));
 panel({left,right,top:rugTop,bottom:rugBottom},{x,y:{domain:rugOrder,padding:0,axis:null},color:{type:"identity"},marks:[
  Plot.barX(rug,{x1:"a",x2:"b",y:"name",fill:"c",fillOpacity:.95,inset:0})]});
 const m=metricRank.map((r,i)=>({r,v:metricVal[i]}));
 panel({left,right,top:mTop,bottom:mBottom,ml:90,mr:20,mb:30},{x,y:{domain:[-5,2.5],axis:null},marks:[
  ...vg.map(g=>Plot.ruleX(g.t,{stroke:g.c,strokeWidth:1})),
  Plot.area(m,{x1:"r",y1:()=>0,y2:"v",fill:"#bdbdbd"}),
  Plot.frame({anchor:"left",strokeWidth:1.2}),
  Plot.frame({anchor:"bottom",strokeWidth:axisW,stroke:axisC}),
  axY([-5,-2.5,0,2.5],{tickFormat:plain(".1f"),tickSize:2,tickPadding:2,fontSize:8.5,fill:"#4d4d4d"}),
  axX([10,20,30,40,50],{tickFormat:d=>d*1000,tickSize:2,tickPadding:3,fontSize:8.5,fill:"#4d4d4d"}),
  vTitle("Ranked list metric",titleDx,9.5),
  Plot.text(["Rank in Ordered Dataset"],{frameAnchor:"bottom",dy:labelDy,fontSize:9.7})
 ]});
}
gsea({left:128.2,right:893.7,kpx:13.12,esTop:744,esBottom:1063.3,yDom:[-.1456,.7268],esTicks:[0,.25,.5],rank:rankC,names:namesC,titleDx:-27.5,labelDy:19,
 series:[{key:"r",color:cRed,es:esC_red,rug:rugC_red},{key:"o",color:cOlive,es:esC_olive,rug:rugC_olive},{key:"g",color:cGreen,es:esC_green,rug:rugC_green},{key:"b",color:cBlue,es:esC_blue,rug:rugC_blue},{key:"p",color:cPurple,es:esC_purple,rug:rugC_purple}],
 legend:{y0:.6967,dy:.0765,x1:36.93,x2:38.53,tx:39.16},rugTop:1063.3,rugBottom:1130.7,rugOrder:["p","b","o","g","r"],mTop:1132.7,mBottom:1168,axisW:1.2,axisC:"#222"});
gsea({left:131.1,right:893.7,kpx:13.08,esTop:1298.3,esBottom:1619.3,yDom:[-.25,.659],esTicks:[-.25,0,.25,.5],rank:rankE,names:namesE,titleDx:-30.4,labelDy:19.6,
 series:[{key:"r",color:cRed,es:esE_red,rug:rugE_red},{key:"o",color:cOlive,es:esE_olive,rug:rugE_olive},{key:"g",color:cGreen,es:esE_green,rug:rugE_green},{key:"b",color:cBlue,es:esE_blue,rug:rugE_blue},{key:"p",color:cPurple,es:esE_purple,rug:rugE_purple}],
 legend:{y0:.6277,dy:.0793,x1:35.83,x2:37.49,tx:38.07},rugTop:1618.3,rugBottom:1685.7,rugOrder:["o","g","r","b","p"],mTop:1687.7,mBottom:1722.7,axisW:3,axisC:"#777"});

// ========== D
{const n=pathways.length;
 const cellsD=corr.flatMap((row,i)=>row.map((v,j)=>({i,j,v})));
 const side=v=>Math.min(.92,1.05*Math.sqrt(Math.abs(v)));
 const bins=d3.range(20).map(i=>({i,v:-1+(i+.5)/10}));
 const cbTop=21.39,cbBot=22.17;
 panel({left:1379,right:1838.5,top:736.8,bottom:1196.3,ml:230,mr:60,mt:135,mb:45},{
  x:{domain:[0,n],axis:null},y:{domain:[n,0],axis:null},
  color:{type:"quantize",n:20,scheme:"RdBu",reverse:true,domain:[-1,1]},marks:[
  Plot.rect(cellsD,{x1:"j",x2:d=>d.j+1,y1:"i",y2:d=>d.i+1,fill:"white",stroke:"#bdbdbd",strokeWidth:1.6}),
  Plot.rect(cellsD.filter(d=>d.v!==0),{x1:d=>d.j+.5-side(d.v)/2,x2:d=>d.j+.5+side(d.v)/2,y1:d=>d.i+.5-side(d.v)/2,y2:d=>d.i+.5+side(d.v)/2,fill:"v"}),
  Plot.text(pathways,{y:(d,i)=>i+.5,frameAnchor:"left",dx:-5,textAnchor:"end",fontSize:9.6}),
  Plot.text(pathways,{x:(d,i)=>i+.5,y:(d,i)=>i,rotate:-45,textAnchor:"start",dx:-2,dy:-3,fontSize:9.6}),
  Plot.rect(bins,{x1:d=>d.i*n/20,x2:d=>(d.i+1)*n/20,y1:()=>cbTop,y2:()=>cbBot,fill:"v"}),
  Plot.rect([0],{x1:()=>0,x2:()=>n,y1:()=>cbTop,y2:()=>cbBot,fill:"none",stroke:"black",strokeWidth:1.5}),
  Plot.ruleX(d3.range(21),{x:d=>d*n/20,y1:()=>cbBot,y2:()=>cbBot+.2,strokeWidth:1})
 ]});}

// ========== F
{const rows=[...boxRows(geneLow,"Low",-.2,.18),...boxRows(geneHigh,"High",.2,.18)];
 const sig=geneSig.map((s,i)=>({s,i}));
 boxLegend(1520.7,1249,78,22.3,25.5,4.5,16,34.8,2);
 panel({left:1264.2,right:1910.3,top:1305.5,bottom:1700.2,ml:100,mb:100,mr:10},{
  x:{domain:[-.599,7.588],axis:null},y:{domain:[-.288,6.344],axis:null},color:boxColor,marks:[
  Plot.frame({anchor:"left",strokeWidth:2}),Plot.frame({anchor:"bottom",strokeWidth:2}),
  ...boxMarks(rows,{sw:2,medW:4,whW:2,r:4.6}),
  Plot.text(sig,{x:"i",y:d=>d.s==="ns"?6.13:6.2,text:"s",fontSize:17,dy:3}),
  axY([0,2,4,6],{tickFormat:d3.format("d"),tickSize:5,tickPadding:3,fontSize:21,strokeWidth:2}),
  axX(d3.range(8),{fill:"none",tickSize:5,strokeWidth:2}),
  Plot.text(d3.range(8),{x:i=>i,text:i=>genes[i],frameAnchor:"bottom",rotate:-60,textAnchor:"end",lineAnchor:"middle",dx:4,dy:16,fontSize:20}),
  vTitle("Gene expression(log2(FPKM+1))",-34.7,21)
 ]});}

// ========== G
{const rows=[...boxRows(cellLow,"Low",-.2,.18),...boxRows(cellHigh,"High",.2,.18)];
 const sig=cellSig.map((s,i)=>({s,i}));
 boxLegend(480,1817,40,11,12,2,9.5,17,1);
 panel({left:44.5,right:984,top:1846,bottom:2158.7,ml:42,mb:131,mr:10},{
  x:{domain:[-.576,27.6],axis:null},y:{domain:[-.0351,1.0632],axis:null},color:boxColor,marks:[
  Plot.frame({anchor:"left",strokeWidth:1.6,stroke:"#444"}),Plot.frame({anchor:"bottom",strokeWidth:2.2,stroke:"#555"}),
  ...boxMarks(rows,{sw:1.2,medW:2,whW:.9,r:1.9}),
  Plot.text(sig,{x:"i",y:d=>d.s==="ns"?1.023:1.032,text:"s",fontSize:9.5,dy:1.5}),
  axY([0,.25,.5,.75,1],{tickFormat:plain(".2f"),tickSize:3,tickPadding:2,fontSize:10.5,fill:"#333"}),
  axX(d3.range(28),{fill:"none",tickSize:3}),
  Plot.text(d3.range(28),{x:i=>i,text:i=>cells[i],frameAnchor:"bottom",rotate:-60,textAnchor:"end",lineAnchor:"middle",dx:2,dy:9,fontSize:10.3,fill:"#222"}),
  vTitle("Immune infiltration",-33,9.5)
 ]});}

// ========== H
function facet(name,sig,stats,left,right,yDom,ticks,sigX,sigY,fmt,extra=[]){
 const top=1860.7,bottom=2246.3;
 panel({left,right,top:1829,bottom:top},{marks:[
   Plot.frame({fill:"#f2f2f2",stroke:"black",strokeWidth:1.5}),
   Plot.text([name],{frameAnchor:"middle",fontSize:16.5})]});
 const rows=[boxRows([stats[0]],"Low",0,.355)[0],boxRows([stats[1]],"High",1,.355)[0]];
 panel({left,right,top,bottom,ml:95,mb:40,mt:2},{
  x:{domain:[-.596,1.59],axis:null},y:{domain:yDom,axis:null},color:boxColor,marks:[
  Plot.frame({strokeWidth:1.8}),Plot.frame({anchor:"top",strokeWidth:4.5}),
  ...boxMarks(rows,{sw:2.4,medW:4.2,whW:2,r:4.6}),
  Plot.text([sig],{x:()=>sigX,y:()=>sigY,fontSize:15,dy:3}),
  axY(ticks,{tickFormat:fmt,tickSize:5,tickPadding:3,fontSize:20,strokeWidth:2}),
  axX([0,1],{tickFormat:i=>hGroups[i],tickSize:5,tickPadding:3,fontSize:20,strokeWidth:2}),
  ...extra
 ]});
}
facet("StromalScore","*",stromal,1273.1,1442.3,[-1968,421],[0,-500,-1000,-1500],.474,374,d3.format("d"),[vTitle("Predicted value",-83.3,20)]);
facet("ImmuneScore","****",immune,1509.3,1678,[1542,4339],[2000,2500,3000,3500,4000],.557,4283,d3.format("d"));
facet("TumorPurity","***",purity,1727.6,1896.9,[.272,.8424],[.3,.4,.5,.6,.7,.8],.54,.831,d3.format(".1f"));

// ========== tags
tag("A",8.3,63);tag("B",1106.5,48.3);tag("C",42,756.7);tag("D",1180.5,747.8);tag("E",46.8,1311);tag("F",1178.4,1303.7);tag("G",9.5,1835);tag("H",1188,1846.7);
</script></body></html>
